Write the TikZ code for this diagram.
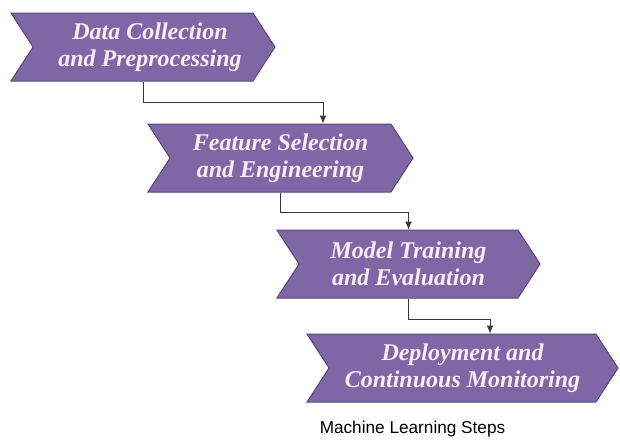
\documentclass[tikz,border=0pt]{standalone}
\usepackage{fontspec}
\setmainfont{Liberation Serif}
\newfontfamily\capfont{Liberation Sans}
\usetikzlibrary{arrows.meta, positioning, shapes.symbols}

\definecolor{stagefill}{RGB}{127,103,166}
\definecolor{stageline}{RGB}{88,72,118}
\definecolor{stagetext}{RGB}{250,238,250}
\definecolor{flowline}{RGB}{55,55,55}

\tikzset{
  stage/.style={signal, signal from=west, signal to=east, signal pointer angle=114,
    draw=stageline, fill=stagefill, line width=1pt, minimum height=68pt, inner sep=2pt,
    align=center, text=stagetext, font=\fontsize{24}{27}\selectfont\bfseries\itshape},
  flow/.style={-{Latex[length=8pt,width=7pt]}, draw=flowline, line width=1pt},
}

\begin{document}
\begin{tikzpicture}[x=1pt, y=1pt]
  \useasboundingbox (0,0) rectangle (620,-439);

  % ML stages
  \node[stage, minimum width=264pt] (s1) at (143,-47) {\hspace*{14pt}Data Collection\\\hspace*{14pt}and Preprocessing};
  \node[stage, minimum width=265pt, below=42pt of s1, xshift=137.5pt] (s2) {Feature Selection\\and Engineering};
  \node[stage, minimum width=263pt, below=37pt of s2, xshift=128pt] (s3) {Model Training\\and Evaluation};
  \node[stage, minimum width=311pt, below=35pt of s3, xshift=54pt] (s4) {Deployment and\\Continuous Monitoring};

  % caption
  \node[below=18pt of s4, xshift=-50pt, inner sep=0pt, font=\capfont\fontsize{17.2}{20}\selectfont] (cap) {Machine Learning Steps};

  % Connectors
  \draw[flow] (s1.south) -- ++(0,-21) -| ([xshift=42.5pt]s2.north);
  \draw[flow] (s2.south) -- ++(0,-20) -| (s3.north);
  \draw[flow] (s3.south) -- ++(0,-21) -| ([xshift=27.5pt]s4.north);
\end{tikzpicture}
\end{document}
